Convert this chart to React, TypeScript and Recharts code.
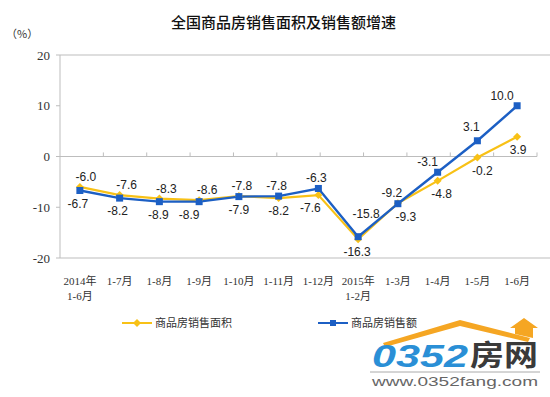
import React from 'react';
import {
  LineChart, Line, XAxis, YAxis, ReferenceLine, ReferenceArea, LabelList,
} from 'recharts';

const categories = ['2014年\n1-6月', '1-7月', '1-8月', '1-9月', '1-10月', '1-11月', '1-12月', '2015年\n1-2月', '1-3月', '1-4月', '1-5月', '1-6月'];
const areaGrowth = [-6.0, -7.6, -8.3, -8.6, -7.8, -8.2, -7.6, -16.3, -9.2, -4.8, -0.2, 3.9];
const salesGrowth = [-6.7, -8.2, -8.9, -8.9, -7.9, -7.8, -6.3, -15.8, -9.3, -3.1, 3.1, 10.0];
const yTicks = [-20, -10, 0, 10, 20];
const seriesNames = ['商品房销售面积', '商品房销售额'];
const title = '全国商品房销售面积及销售额增速';
const unitLabel = '（%）';

// label nudges (style only, in px)
const areaLabelDx = [6, 7, 7, 8, 3, 0, -8, -1, -6, 4, 5, 1];
const salesLabelDx = [-2, -2, -1, -10, 0, -2, -2, 8, 8, -10, -6, -15];
const salesLabelDy = [0, 0, 0, 0, 0, 0, 0, -13, 0, 0, -4, 0];
const areaLabelDy = [0, 0, 0, 0, 0, 0, 0, 0, 0, 0, 0, 0];

const YELLOW = '#F8C116';
const BLUE = '#1C5FC4';
const GRID = '#BDBDBD';

const data = categories.map((c, i) => ({ name: c, area: areaGrowth[i], sales: salesGrowth[i] }));
const boundaries = categories.slice(1).map((_, i) => i + 1);

const makeLabel = (own: number[], other: number[], dxs: number[], dys: number[]) => (props: any) => {
  const { x, y, index, value } = props;
  if (x == null || y == null) return null;
  const above = own[index] >= other[index];
  return (
    <text
      x={x + dxs[index]}
      y={(above ? y - 6 : y + 17) + dys[index]}
      textAnchor="middle"
      fontSize={12}
      fontFamily="'Liberation Sans', Arial, sans-serif"
      fill="#222"
    >
      {Number(value).toFixed(1)}
    </text>
  );
};

const diamondDot = (props: any) => {
  const { cx, cy, index } = props;
  if (cx == null || cy == null) return <g key={`d${index}`} />;
  const s = 4;
  return (
    <path key={`d${index}`} d={`M${cx},${cy - s} L${cx + s},${cy} L${cx},${cy + s} L${cx - s},${cy} Z`} fill={YELLOW} />
  );
};

const squareDot = (props: any) => {
  const { cx, cy, index } = props;
  if (cx == null || cy == null) return <g key={`s${index}`} />;
  const s = 3.5;
  return <rect key={`s${index}`} x={cx - s} y={cy - s} width={2 * s} height={2 * s} fill={BLUE} />;
};

const CategoryTick = (props: any) => {
  const { x, y, payload } = props;
  const lines = String(payload.value).split('\n');
  return (
    <g>
      {lines.map((l, i) => (
        <text
          key={i}
          x={x}
          y={y + 19 + i * 15}
          textAnchor="middle"
          fontSize={11}
          fontFamily="'Liberation Serif', 'Noto Sans CJK SC', serif"
          fill="#333"
        >
          {l}
        </text>
      ))}
    </g>
  );
};

const LegendBox = () => {
  const items = [
    { name: seriesNames[0], color: YELLOW, x: 122, marker: 'diamond' },
    { name: seriesNames[1], color: BLUE, x: 318, marker: 'square' },
  ];
  return (
    <svg width={550} height={20} style={{ position: 'absolute', left: 0, top: 313, display: 'block' }}>
      {items.map((it) => (
        <g key={it.name}>
          <line x1={it.x} x2={it.x + 30} y1={10} y2={10} stroke={it.color} strokeWidth={2} />
          {it.marker === 'diamond' ? (
            <path d={`M${it.x + 15},6 L${it.x + 19},10 L${it.x + 15},14 L${it.x + 11},10 Z`} fill={it.color} />
          ) : (
            <rect x={it.x + 12} y={7} width={6} height={6} fill={it.color} />
          )}
          <text x={it.x + 33} y={14} fontSize={11} fontFamily="'Noto Sans CJK SC', sans-serif" fill="#333">
            {it.name}
          </text>
        </g>
      ))}
    </svg>
  );
};

const Watermark = () => (
  <svg width={550} height={397} style={{ position: 'absolute', left: 0, top: 0, pointerEvents: 'none' }}>
    <path d="M383,343 L460,320 L530,338 L528,342 L460,326 L385,347 Z" fill="#F5A623" />
    <path d="M515,334 L515,328 L510,328 L524,318 L538,328 L533,328 L533,338 Z" fill="#F5A623" />
    <text x={372} y={367} fontSize={31} fontWeight="bold" fontStyle="italic" textLength={96} lengthAdjust="spacingAndGlyphs" fontFamily="'Liberation Sans', Arial, sans-serif" fill="#2A8FD6">0352</text>
    <text x={470} y={366} fontSize={29} fontWeight="bold" textLength={68} lengthAdjust="spacingAndGlyphs" fontFamily="'Noto Sans CJK SC', sans-serif" fill="#3a3a3a">房网</text>
    <line x1={370} x2={540} y1={372} y2={372} stroke="#aaa" strokeWidth={1} />
    <text x={372} y={386} fontSize={13} textLength={166} lengthAdjust="spacingAndGlyphs" fontFamily="'Liberation Sans', Arial, sans-serif" fill="#666">www.0352fang.com</text>
  </svg>
);

export default function App() {
  return (
    <div style={{ position: 'absolute', left: 0, top: 0, width: 550, height: 397, background: '#fff', overflow: 'hidden' }}>
      <div style={{ position: 'absolute', left: 0, top: 11, width: 550, textAlign: 'center', fontSize: 15, fontWeight: 500, fontFamily: "'Noto Sans CJK SC', sans-serif", color: '#111', paddingLeft: 17, boxSizing: 'border-box' }}>
        {title}
      </div>
      <div style={{ position: 'absolute', left: 6, top: 25, fontSize: 11, fontFamily: "'Noto Sans CJK SC', sans-serif", color: '#333' }}>
        {unitLabel}
      </div>
      <LineChart width={550} height={397} data={data} margin={{ top: 55, right: 13, bottom: 99, left: 15 }}>
        <XAxis dataKey="name" scale="band" interval={0} tick={<CategoryTick />} tickLine={false} axisLine={false} height={40} />
        <XAxis xAxisId="num" type="number" domain={[0, 12]} allowDataOverflow hide />
        <YAxis
          domain={[-20, 20]}
          ticks={yTicks}
          width={45}
          axisLine={false}
          tickLine={{ stroke: GRID }}
          tickSize={4}
          tickMargin={6}
          tick={{ fontSize: 13, fontFamily: "'Liberation Serif', 'Times New Roman', serif", fill: '#333' }}
        />
        <ReferenceArea xAxisId="num" x1={0} x2={12} y1={-20} y2={20} fill="none" stroke={GRID} strokeWidth={1} ifOverflow="visible" />
        <ReferenceLine xAxisId="num" y={0} stroke={GRID} strokeWidth={1} />
        {boundaries.map((b) => (
          <ReferenceLine key={b} xAxisId="num" segment={[{ x: b, y: 0 }, { x: b, y: 0.8 }]} stroke={GRID} strokeWidth={1} />
        ))}
        <Line dataKey="area" name={seriesNames[0]} stroke={YELLOW} strokeWidth={2.2} dot={diamondDot} activeDot={false} isAnimationActive={false}>
          <LabelList dataKey="area" content={makeLabel(areaGrowth, salesGrowth, areaLabelDx, areaLabelDy)} />
        </Line>
        <Line dataKey="sales" name={seriesNames[1]} stroke={BLUE} strokeWidth={2.4} dot={squareDot} activeDot={false} isAnimationActive={false}>
          <LabelList dataKey="sales" content={makeLabel(salesGrowth, areaGrowth, salesLabelDx, salesLabelDy)} />
        </Line>
      </LineChart>
      <LegendBox />
      <Watermark />
    </div>
  );
}
